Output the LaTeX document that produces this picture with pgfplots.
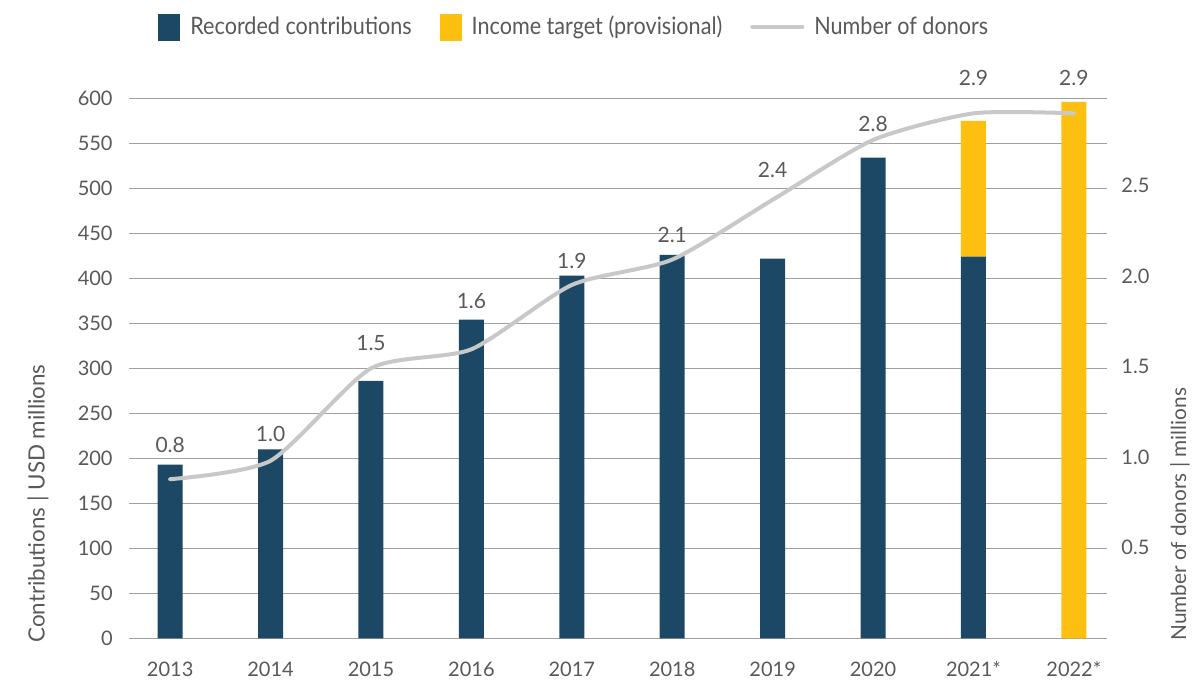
\documentclass[border=0pt]{standalone}
\usepackage{pgfplots}
\pgfplotsset{compat=1.18}
\usepackage{fontspec}
\setmainfont{Lato}
\newfontfamily\legfont[FakeStretch=0.9]{Lato}
\definecolor{darkblue}{RGB}{28,72,102}
\definecolor{goldy}{RGB}{253,192,16}
\definecolor{linegray}{RGB}{200,200,200}
\definecolor{txtgray}{RGB}{89,89,89}
\definecolor{gridgray}{RGB}{160,160,160}
\begin{document}
\begin{tikzpicture}
\useasboundingbox (-64.5pt,-21.35pt) rectangle (536.5pt,319.15pt);
\begin{axis}[
  at={(0,0)}, anchor=south west,
  scale only axis, width=489pt, height=270pt,
  xmin=-0.41, xmax=9.33, ymin=0, ymax=600,
  ybar stacked, bar width=12.5pt,
  xtick={0,...,9},
  xticklabels={2013,2014,2015,2016,2017,2018,2019,2020,2021*,2022*},
  ytick={0,50,...,600},
  ymajorgrids, grid style={gridgray, line width=0.5pt},
  axis line style={draw=none}, tick style={draw=none},
  font=\fontsize{10}{12}\selectfont, text=txtgray,
  /pgf/number format/assume math mode=true,
  yticklabel style={anchor=east, inner sep=0pt, xshift=-8pt},
  xticklabel style={anchor=center, inner sep=0pt, yshift=-15.5pt},
  ylabel={Contributions | USD millions},
  ylabel style={at={(axis description cs:-0.093,-0.0087)}, anchor=west, rotate=0, inner sep=0pt, font=\fontsize{11.2}{13}\selectfont},
  legend columns=3,
  legend style={at={(axis description cs:0.0235,1.132)}, anchor=west, draw=none, fill=none,
    font=\legfont\fontsize{12}{14}\selectfont, text=txtgray,
    /tikz/every even column/.append style={column sep=12pt}},
  legend cell align=left,
]
\addplot[fill=darkblue, draw=none, legend image code/.code={\fill[darkblue] (0pt,-6.75pt) rectangle (11pt,6.75pt); \path[draw=none,fill=none] (0pt,0pt) -- (14pt,0pt);}] coordinates {
 (0,193) (1,210) (2,286) (3,354) (4,403) (5,426) (6,422) (7,534) (8,424) (9,0)};
\addlegendentry{Recorded contributions}
\addplot[fill=goldy, draw=none, legend image code/.code={\fill[goldy] (0pt,-6.75pt) rectangle (11pt,6.75pt); \path[draw=none,fill=none] (0pt,0pt) -- (14pt,0pt);}] coordinates {
 (0,0) (1,0) (2,0) (3,0) (4,0) (5,0) (6,0) (7,0) (8,151) (9,596)};
\addlegendentry{Income target (provisional)}
\addlegendimage{legend image code/.code={\draw[linegray, line width=2pt, line cap=round] (0pt,0pt) -- (25pt,0pt); \path[draw=none,fill=none] (0pt,0pt) -- (29pt,0pt);}}
\addlegendentry{Number of donors}
\end{axis}
\begin{axis}[
  at={(0,0)}, anchor=south west,
  scale only axis, width=489pt, height=270pt,
  xmin=-0.41, xmax=9.33, ymin=0, ymax=2.98,
  hide x axis, clip=false,
  axis y line*=right,
  ytick={0.5,1,1.5,2,2.5},
  axis line style={draw=none}, tick style={draw=none},
  font=\fontsize{10}{12}\selectfont, text=txtgray,
  /pgf/number format/assume math mode=true,
  yticklabel={\pgfmathprintnumber[fixed, fixed zerofill, precision=1]{\tick}},
  yticklabel style={anchor=west, inner sep=0pt, xshift=7pt},
  ylabel={Number of donors | millions},
  ylabel style={at={(axis description cs:1.0746,-0.005)}, anchor=west, rotate=0, inner sep=0pt, font=\fontsize{10.4}{13}\selectfont},
]
\addplot[linegray, line width=2pt, line cap=round, line join=round, smooth, tension=0.4] coordinates {
 (0,0.878) (1,0.98) (2,1.49) (3,1.595) (4,1.95) (5,2.09) (6,2.42) (7,2.75) (8,2.897) (9,2.897)};
\addplot[draw=none, mark=none, nodes near coords, point meta=explicit symbolic,
  every node near coord/.append style={anchor=center, inner sep=0pt, font=\fontsize{10.5}{12}\selectfont, text=txtgray}]
 table[meta=lab] {
 x y lab
 0 1.067 0.8
 1 1.127 1.0
 2 1.628 1.5
 3 1.861 1.6
 4 2.084 1.9
 5 2.225 2.1
 6 2.584 2.4
 7 2.841 2.8
 8 3.092 2.9
 9 3.092 2.9
 };
\end{axis}
\end{tikzpicture}
\end{document}
